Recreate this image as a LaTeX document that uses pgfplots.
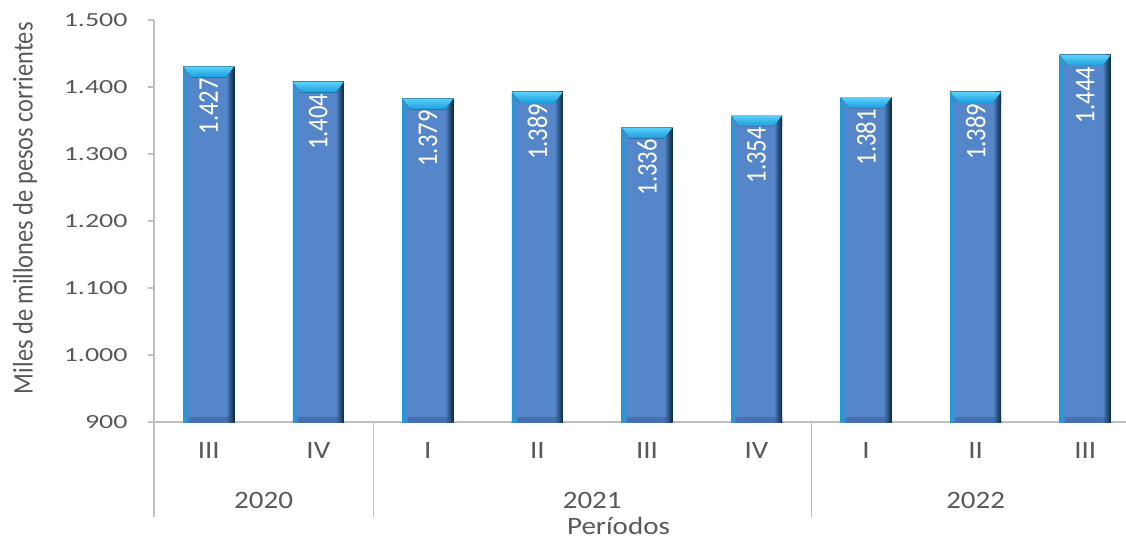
\documentclass[border=0pt]{standalone}
\usepackage{fontspec}
\setmainfont{Carlito}
\usepackage{graphicx}
\usepackage{pgfplots}
\usepackage{pgfplotstable}
\pgfplotsset{compat=1.18}

\definecolor{barL}{HTML}{1E9AD8}
\definecolor{barL2}{HTML}{3F8ED4}
\definecolor{barF}{HTML}{5586C9}
\definecolor{barR2}{HTML}{2E5585}
\definecolor{barR}{HTML}{0A2A40}
\definecolor{botF}{HTML}{4670AE}
\definecolor{capT}{HTML}{5AD2FA}
\definecolor{capB}{HTML}{1A9BDC}
\definecolor{txt}{HTML}{595959}
\definecolor{gridc}{HTML}{BFBFBF}

\pgfdeclarehorizontalshading{barface}{100bp}{color(0bp)=(barL); color(25bp)=(barL); color(28bp)=(barL2); color(31bp)=(barF); color(67bp)=(barF); color(71bp)=(barR2); color(75bp)=(barR); color(100bp)=(barR)}
\pgfdeclarehorizontalshading{barbottom}{100bp}{color(0bp)=(barL); color(25bp)=(barL); color(28bp)=(barL2); color(31bp)=(botF); color(67bp)=(botF); color(71bp)=(barR2); color(75bp)=(barR); color(100bp)=(barR)}

\pgfplotstableread{
x  val
0  1427
1  1404
2  1379
3  1389
4  1336
5  1354
6  1381
7  1389
8  1444
}\datos

\begin{document}
\begin{tikzpicture}
\begin{axis}[
    at={(0,0)}, anchor=south west,
    scale only axis,
    width=493pt, height=201pt,
    xmin=-0.5, xmax=8.5,
    ymin=900, ymax=1500,
    ytick={900,1000,...,1500},
    xtick={0,...,8},
    xticklabels={\scalebox{1.16}[1]{III},\scalebox{1.16}[1]{IV},\scalebox{1.16}[1]{I},\scalebox{1.16}[1]{II},\scalebox{1.16}[1]{III},\scalebox{1.16}[1]{IV},\scalebox{1.16}[1]{I},\scalebox{1.16}[1]{II},\scalebox{1.16}[1]{III}},
    xtick style={draw=none},
    tick align=outside,
    ytick style={draw=gridc, line width=0.6pt},
    major tick length=3pt,
    axis x line*=bottom, axis y line*=left,
    axis line style={draw=gridc, line width=0.6pt, -},
    /pgf/number format/1000 sep={.},
    /pgf/number format/assume math mode=true,
    yticklabel={\scalebox{1.4}[1]{\pgfmathprintnumber{\tick}}},
    yticklabel style={font=\fontsize{10}{12}\selectfont, text=txt, inner sep=0pt, xshift=-10pt},
    xticklabel style={font=\fontsize{12.5}{14}\selectfont, text=txt, anchor=center, yshift=-11pt},
    ylabel={\scalebox{1}[1.16]{Miles de millones de pesos corrientes}},
    every axis y label/.style={at={([xshift=-64.5pt]axis description cs:0,0.532)}, rotate=90, anchor=center, font=\fontsize{12.2}{14}\selectfont, text=txt},
    clip=false,
    ybar, bar width=25.5pt,
]
% una barra por trimestre, para que el sombreado sea de cada barra
\pgfplotsinvokeforeach{0,...,8}{
  \addplot[bar shift=0pt, draw=none, shade, shading=barface,
      restrict x to domain=#1:#1,
      nodes near coords={},
      every node near coord/.style={anchor=north, yshift=1.5pt, inner sep=0pt, minimum width=25.5pt, minimum height=5.5pt,
          path picture={\fill[barF] (path picture bounding box.south west) rectangle (path picture bounding box.north east);
            \fill[top color=capT, bottom color=capB]
              (path picture bounding box.north west) -- (path picture bounding box.north east)
              -- ([xshift=-4pt]path picture bounding box.south east)
              -- ([xshift=4pt]path picture bounding box.south west) -- cycle;}}
      ] table[x=x, y=val] {\datos};
  \addplot[bar shift=0pt, draw=none, shade, shading=barbottom] coordinates {(#1,907)};
}
% etiquetas
\addplot[bar shift=0pt, draw=none, fill=none,
    nodes near coords={\scalebox{1}[1.16]{\pgfmathprintnumber{\pgfplotspointmeta}}},
    every node near coord/.style={rotate=90, anchor=east, inner xsep=4.5pt, inner ysep=0pt, text=white, font=\fontsize{12.3}{14}\selectfont}
    ] table[x=x, y=val] {\datos};

\draw[gridc, line width=0.6pt] (axis cs:-0.5,900) -- ++(0pt,-47.5pt);
\draw[gridc, line width=0.6pt] (axis cs:1.5,900) -- ++(0pt,-47.5pt);
\draw[gridc, line width=0.6pt] (axis cs:5.5,900) -- ++(0pt,-47.5pt);

\node[font=\fontsize{12.5}{14}\selectfont, text=txt] at ([yshift=-39pt]axis cs:0.5,900) {\scalebox{1.16}[1]{2020}};
\node[font=\fontsize{12.5}{14}\selectfont, text=txt] at ([yshift=-39pt]axis cs:3.5,900) {\scalebox{1.16}[1]{2021}};
\node[font=\fontsize{12.5}{14}\selectfont, text=txt] at ([yshift=-39pt]axis cs:7,900) {\scalebox{1.16}[1]{2022}};
\node[font=\fontsize{12.5}{14}\selectfont, text=txt] at ([yshift=-52pt]axis cs:3.74,900) {\scalebox{1.16}[1]{Períodos}};
\end{axis}
\pgfresetboundingbox
\path[use as bounding box] (-77pt,-58pt) rectangle (486pt,211pt);
\end{tikzpicture}
\end{document}
